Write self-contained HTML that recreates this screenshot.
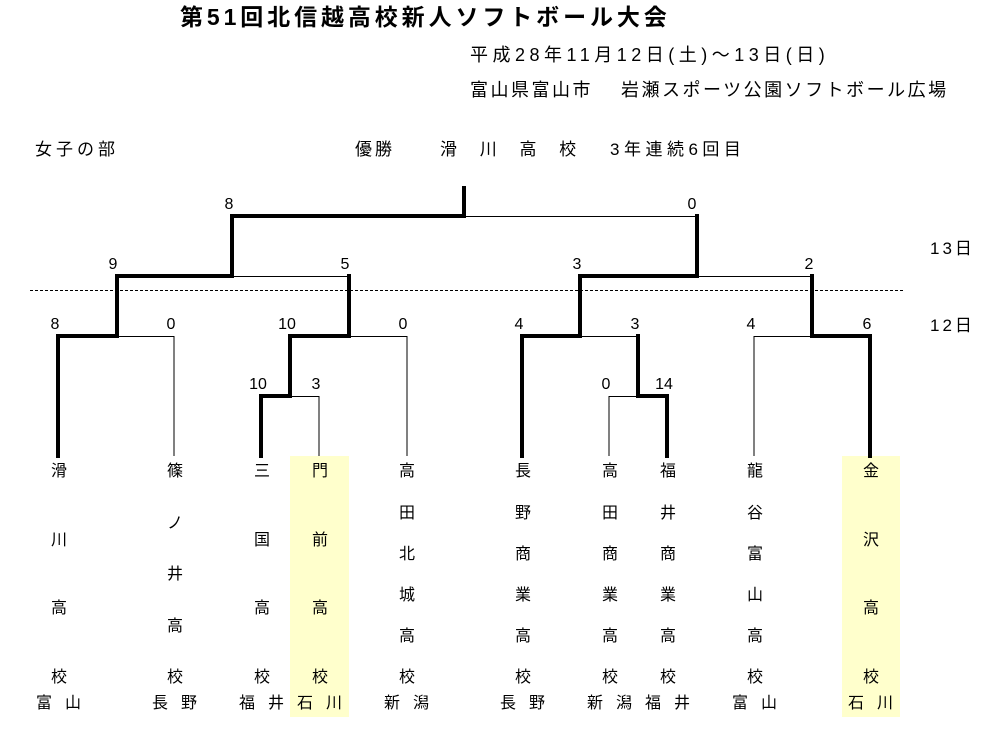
<!DOCTYPE html>
<html><head><meta charset="utf-8">
<style>
body{margin:0;background:#fff;}
#c{position:relative;width:1005px;height:743px;overflow:hidden;font-family:"Liberation Sans","Noto Sans CJK JP",sans-serif;color:#000;}
.t{position:absolute;transform:translate(-50%,-50%);font-size:16px;line-height:1;white-space:nowrap;}
.l{position:absolute;white-space:nowrap;line-height:1;}
.hl{position:absolute;background:#ffffcc;}
</style></head><body><div id="c">
<div class="hl" style="left:290px;top:456px;width:59px;height:261px"></div>
<div class="hl" style="left:842px;top:456px;width:58px;height:261px"></div>

<div class="l" style="left:180px;top:6px;font-size:23px;font-weight:bold;letter-spacing:3.9px">第51回北信越高校新人ソフトボール大会</div>
<div class="l" style="left:470px;top:46px;font-size:18px;letter-spacing:4.5px">平成28年11月12日(土)～13日(日)</div>
<div class="l" style="left:470px;top:81px;font-size:18px;letter-spacing:2.5px">富山県富山市　 岩瀬スポーツ公園ソフトボール広場</div>
<div class="l" style="left:35px;top:141px;font-size:17px;letter-spacing:4px">女子の部</div>
<div class="l" style="left:355px;top:141px;font-size:17px;letter-spacing:3px">優勝</div>
<div class="l" style="left:440px;top:141px;font-size:17px;letter-spacing:9px">滑 川 高 校</div>
<div class="l" style="left:610px;top:141px;font-size:17px;letter-spacing:4.5px">3年連続6回目</div>
<div class="l" style="left:930px;top:240px;font-size:17px;letter-spacing:3px">13日</div>
<div class="l" style="left:930px;top:317px;font-size:17px;letter-spacing:3px">12日</div>

<svg width="1005" height="743" style="position:absolute;left:0;top:0" fill="none" stroke="#000">
<line x1="30" y1="290.5" x2="905" y2="290.5" stroke-width="1" stroke-dasharray="3,2"/>
<g stroke-width="1">
<polyline points="174,456 174,336.5 117,336.5"/>
<polyline points="319,456 319,396.5 290,396.5"/>
<polyline points="407,456 407,336.5 349,336.5"/>
<polyline points="232,276.5 349,276.5"/>
<polyline points="464,216.5 697,216.5"/>
<polyline points="580,336.5 638,336.5"/>
<polyline points="609,456 609,396.5 638,396.5"/>
<polyline points="697,276.5 812,276.5"/>
<polyline points="754,456 754,336.5 812,336.5"/>
</g>
<g stroke-width="4" stroke-linejoin="miter" stroke-linecap="square">
<polyline points="58,456 58,336 117,336 117,276 232,276 232,216 464,216 464,188"/>
<polyline points="261,456 261,396 290,396 290,336 349,336 349,276"/>
<polyline points="522,456 522,336 580,336 580,276 697,276 697,216"/>
<polyline points="667,456 667,396 638,396 638,336"/>
<polyline points="870,456 870,336 812,336 812,276"/>
</g>
</svg>

<div class="t" style="left:229px;top:205px">8</div>
<div class="t" style="left:692px;top:205px">0</div>
<div class="t" style="left:113px;top:265px">9</div>
<div class="t" style="left:345px;top:265px">5</div>
<div class="t" style="left:577px;top:265px">3</div>
<div class="t" style="left:809px;top:265px">2</div>
<div class="t" style="left:55px;top:325px">8</div>
<div class="t" style="left:171px;top:325px">0</div>
<div class="t" style="left:287px;top:325px">10</div>
<div class="t" style="left:403px;top:325px">0</div>
<div class="t" style="left:519px;top:325px">4</div>
<div class="t" style="left:635px;top:325px">3</div>
<div class="t" style="left:751px;top:325px">4</div>
<div class="t" style="left:867px;top:325px">6</div>
<div class="t" style="left:258px;top:385px">10</div>
<div class="t" style="left:316px;top:385px">3</div>
<div class="t" style="left:606px;top:385px">0</div>
<div class="t" style="left:664px;top:385px">14</div>

<div class="t" style="left:59px;top:472px">滑</div><div class="t" style="left:59px;top:541px">川</div><div class="t" style="left:59px;top:609px">高</div><div class="t" style="left:59px;top:678px">校</div>
<div class="t" style="left:175px;top:472px">篠</div><div class="t" style="left:175px;top:524px">ノ</div><div class="t" style="left:175px;top:575px">井</div><div class="t" style="left:175px;top:627px">高</div><div class="t" style="left:175px;top:678px">校</div>
<div class="t" style="left:262px;top:472px">三</div><div class="t" style="left:262px;top:541px">国</div><div class="t" style="left:262px;top:609px">高</div><div class="t" style="left:262px;top:678px">校</div>
<div class="t" style="left:320px;top:472px">門</div><div class="t" style="left:320px;top:541px">前</div><div class="t" style="left:320px;top:609px">高</div><div class="t" style="left:320px;top:678px">校</div>
<div class="t" style="left:407px;top:472px">高</div><div class="t" style="left:407px;top:514px">田</div><div class="t" style="left:407px;top:555px">北</div><div class="t" style="left:407px;top:596px">城</div><div class="t" style="left:407px;top:637px">高</div><div class="t" style="left:407px;top:678px">校</div>
<div class="t" style="left:523px;top:472px">長</div><div class="t" style="left:523px;top:514px">野</div><div class="t" style="left:523px;top:555px">商</div><div class="t" style="left:523px;top:596px">業</div><div class="t" style="left:523px;top:637px">高</div><div class="t" style="left:523px;top:678px">校</div>
<div class="t" style="left:610px;top:472px">高</div><div class="t" style="left:610px;top:514px">田</div><div class="t" style="left:610px;top:555px">商</div><div class="t" style="left:610px;top:596px">業</div><div class="t" style="left:610px;top:637px">高</div><div class="t" style="left:610px;top:678px">校</div>
<div class="t" style="left:668px;top:472px">福</div><div class="t" style="left:668px;top:514px">井</div><div class="t" style="left:668px;top:555px">商</div><div class="t" style="left:668px;top:596px">業</div><div class="t" style="left:668px;top:637px">高</div><div class="t" style="left:668px;top:678px">校</div>
<div class="t" style="left:755px;top:472px">龍</div><div class="t" style="left:755px;top:514px">谷</div><div class="t" style="left:755px;top:555px">富</div><div class="t" style="left:755px;top:596px">山</div><div class="t" style="left:755px;top:637px">高</div><div class="t" style="left:755px;top:678px">校</div>
<div class="t" style="left:871px;top:472px">金</div><div class="t" style="left:871px;top:541px">沢</div><div class="t" style="left:871px;top:609px">高</div><div class="t" style="left:871px;top:678px">校</div>

<div class="t" style="left:44px;top:704px">富</div><div class="t" style="left:73px;top:704px">山</div>
<div class="t" style="left:160px;top:704px">長</div><div class="t" style="left:189px;top:704px">野</div>
<div class="t" style="left:247px;top:704px">福</div><div class="t" style="left:276px;top:704px">井</div>
<div class="t" style="left:305px;top:704px">石</div><div class="t" style="left:334px;top:704px">川</div>
<div class="t" style="left:392px;top:704px">新</div><div class="t" style="left:421px;top:704px">潟</div>
<div class="t" style="left:508px;top:704px">長</div><div class="t" style="left:537px;top:704px">野</div>
<div class="t" style="left:595px;top:704px">新</div><div class="t" style="left:624px;top:704px">潟</div>
<div class="t" style="left:653px;top:704px">福</div><div class="t" style="left:682px;top:704px">井</div>
<div class="t" style="left:740px;top:704px">富</div><div class="t" style="left:769px;top:704px">山</div>
<div class="t" style="left:856px;top:704px">石</div><div class="t" style="left:885px;top:704px">川</div>
</div></body></html>
